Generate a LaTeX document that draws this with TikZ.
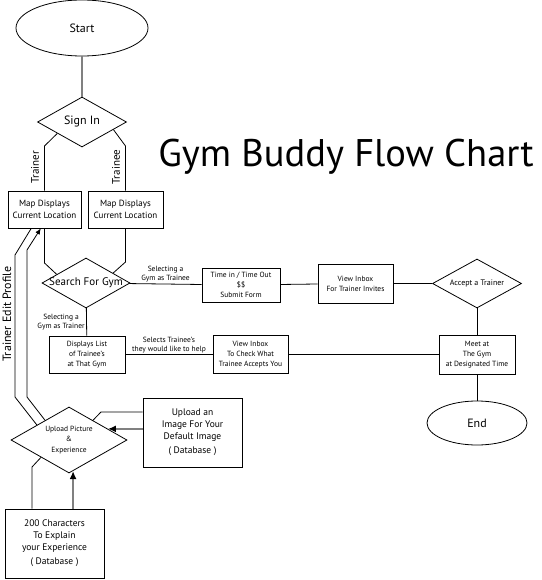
\documentclass[tikz,border=0pt]{standalone}
\usepackage{fontspec}
\setmainfont{PT Sans}
\usetikzlibrary{shapes.geometric}
\usetikzlibrary{arrows.meta,calc}
\tikzstyle{terminal}=[ellipse,draw,line width=0.8pt,inner sep=0pt,font=\fontsize{12}{14}\selectfont]
\tikzstyle{decision}=[diamond,draw,line width=0.8pt,inner sep=0pt]
\tikzstyle{process}=[rectangle,draw,line width=0.8pt,inner sep=0pt,align=center]
\tikzstyle{flowlabel}=[align=center,inner sep=1.5pt,font=\fontsize{7.5}{9}\selectfont]
\tikzstyle{flow}=[line width=0.8pt]
\tikzstyle{greyflow}=[line width=2pt,black!50]

\begin{document}
\begin{tikzpicture}[x=1pt,y=-1pt]
\useasboundingbox (0,0) rectangle (541,580);

%title
\node[font=\fontsize{38.5}{46}\selectfont] (title) at (346,157) {Gym Buddy Flow Chart};

%start / end
\node[terminal,minimum width=132pt,minimum height=56pt] (start) at (82,28) {Start};
\node[terminal,minimum width=100pt,minimum height=44pt] (finish) at (477,423) {End};

%decisions
\foreach \pos/\name/\bw/\bh/\fs/\label in {{(82,122)/signin/89/50/12/Sign In}, {(86,283)/search/88/50/11/Search For Gym},
    {(477,283.5)/accept/89/49/8/Accept a Trainer}, {(69,440)/upload/116/66/7.5/{Upload Picture\\\&\\Experience}}}
    \node[decision,minimum width=\bw pt,minimum height=\bh pt,
      label={[align=center,font=\fontsize{\fs}{10.5}\selectfont]center:\label}] (\name) at \pos {};

%boxes
\foreach \pos/\name/\bw/\bh/\label in {{(44.5,209.5)/mapA/73/37/{Map Displays\\Current Location}},
    {(125.5,209.5)/mapB/75/37/{Map Displays\\Current Location}}}
    \node[process,minimum width=\bw pt,minimum height=\bh pt,font=\fontsize{9}{11.5}\selectfont] (\name) at \pos {\label};
\foreach \pos/\name/\bw/\bh/\label in {{(241,285)/timebox/78/34/{Time in / Time Out\\\$\$\\Submit Form}},
    {(355.5,283.5)/invites/75/39/{View Inbox\\For Trainer Invites}},
    {(87,354.5)/displays/76/37/{Displays List\\of Trainee’s\\at That Gym}},
    {(250.5,354.5)/checkbox/75/38/{View Inbox\\To Check What\\Trainee Accepts You}},
    {(477,354.5)/meet/76/39/{Meet at\\The Gym\\at Designated Time}}}
    \node[process,minimum width=\bw pt,minimum height=\bh pt,font=\fontsize{7.5}{10}\selectfont] (\name) at \pos {\label};
\node[process,minimum width=99pt,minimum height=69pt,font=\fontsize{9.5}{12}\selectfont] (imagebox) at (192.5,432.5)
    {Upload an\\Image For Your\\Default Image\\[2pt]( Database )};
\node[process,minimum width=99pt,minimum height=69pt,font=\fontsize{9.5}{12}\selectfont] (charbox) at (54.5,543.5)
    {200 Characters\\To Explain\\your Experience\\[2pt]( Database )};

%sign in branches
\draw[greyflow] (start) -- (signin);
\draw[flow] ($(signin.west)!0.45!(signin.south)$) -- (44.5,146) -- (mapA);
\draw[flow] ($(signin.east)!0.3!(signin.south)$) -- (125.5,146) -- (mapB);
\node[flowlabel,rotate=90,font=\fontsize{11}{13}\selectfont] (trainer) at (35,167) {Trainer};
\node[flowlabel,rotate=90,font=\fontsize{11}{13}\selectfont] (trainee) at (116,167) {Trainee};
\draw[flow] (mapA) -- (44.5,263) -- ($(search.west)!0.34!(search.north)$);
\draw[flow] (mapB) -- (125.5,262) -- ($(search.east)!0.39!(search.north)$);

%trainee path
\draw[flow] (search) -- node[flowlabel,above] {Selecting a\\Gym as Trainee} (timebox);
\draw[flow] (timebox) -- (invites);
\draw[flow] (invites) -- (accept);
\draw[flow] (accept) -- (meet);
\draw[flow] (meet) -- (finish);

%trainer path
\draw[flow] (search) -- node[flowlabel,left] {Selecting a\\Gym as Trainer} (displays);
\draw[flow] (displays) -- node[flowlabel,above] {Selects Trainee’s\\they would like to help} (checkbox);
\draw[flow] (checkbox) -- (meet);

%edit profile
\draw[flow] ($(upload.west)!0.45!(upload.north)$) -- (15,397) -- (15,255) -- ($(mapA.south west)!0.32!(mapA.south east)$);
\draw[flow,-{Latex[length=6pt,width=5pt]}] ($(upload.west)!0.59!(upload.north)$) -- (27,397) -- (27,250)
    -- ($(mapA.south west)!0.45!(mapA.south east)$);
\node[flowlabel,rotate=90,font=\fontsize{12}{14}\selectfont] (editprofile) at (7,314) {Trainer Edit Profile};

%uploads
\coordinate (imgtip) at ($(upload.north)!0.667!(upload.east)$);
\coordinate (chartip) at ($(upload.south)!0.07!(upload.east)$);
\draw[flow] (imagebox.west |- 0,412) -- (101,412) -- ($(upload.north)!0.41!(upload.east)$);
\draw[greyflow,-{Latex[length=8pt,width=7pt,color=black]}] (imagebox.west |- imgtip) -- (imgtip);
\draw[flow] (charbox.north -| 32,0) -- (32,467) -- ($(upload.west)!0.52!(upload.south)$);
\draw[greyflow,-{Latex[length=8pt,width=7pt,color=black]}] (chartip |- charbox.north) -- (chartip);

\end{tikzpicture}
\end{document}
